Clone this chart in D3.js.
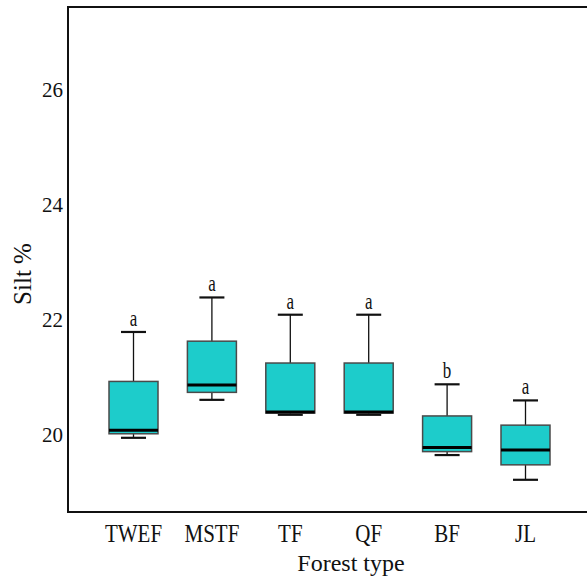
<!DOCTYPE html>
<html>
<head>
<meta charset="utf-8">
<script src="https://cdn.jsdelivr.net/npm/d3@7/dist/d3.min.js"></script>
<style>
  html, body { margin: 0; padding: 0; background: #fff; }
  svg { display: block; }
</style>
</head>
<body>
<svg id="chart" width="587" height="583" font-family="'Liberation Serif', 'Times New Roman', Tinos, 'DejaVu Serif', serif" fill="#111"></svg>
<script>
// Silt content by forest type (box-and-whisker summaries)
const categories = ["TWEF", "MSTF", "TF", "QF", "BF", "JL"];
const whiskerLow  = [19.95, 20.61, 20.35, 20.35, 19.65, 19.22];
const q1          = [20.02, 20.74, 20.38, 20.38, 19.71, 19.48];
const median      = [20.08, 20.87, 20.40, 20.40, 19.78, 19.74];
const q3          = [20.93, 21.63, 21.25, 21.25, 20.33, 20.17];
const whiskerHigh = [21.79, 22.39, 22.09, 22.09, 20.88, 20.60];
const groupLetters = ["a", "a", "a", "a", "b", "a"];
const yTicks = [20, 22, 24, 26];

const svg = d3.select("#chart");
const plotLeft = 68, plotTop = 7, plotBottom = 512;

const x = d3.scalePoint().domain(categories).range([133.5, 525.5]);
const y = d3.scaleLinear().domain([18.66, 27.44]).range([plotBottom, plotTop]);

const boxHalf = 24.5, capHalf = 12.5;

const data = categories.map((c, i) => ({
  cat: c, lo: whiskerLow[i], q1: q1[i], med: median[i], q3: q3[i], hi: whiskerHigh[i], letter: groupLetters[i]
}));

const g = svg.append("g");

// whiskers
g.selectAll("line.whisker").data(data).join("line")
  .attr("class", "whisker")
  .attr("x1", d => x(d.cat)).attr("x2", d => x(d.cat))
  .attr("y1", d => y(d.hi)).attr("y2", d => y(d.lo))
  .attr("stroke", "#111").attr("stroke-width", 1.3);

// caps
["hi", "lo"].forEach(k => {
  g.selectAll("line.cap-" + k).data(data).join("line")
    .attr("class", "cap-" + k)
    .attr("x1", d => x(d.cat) - capHalf).attr("x2", d => x(d.cat) + capHalf)
    .attr("y1", d => y(d[k])).attr("y2", d => y(d[k]))
    .attr("stroke", "#111").attr("stroke-width", 2.2);
});

// boxes
g.selectAll("rect.box").data(data).join("rect")
  .attr("class", "box")
  .attr("x", d => x(d.cat) - boxHalf)
  .attr("width", boxHalf * 2)
  .attr("y", d => y(d.q3))
  .attr("height", d => y(d.q1) - y(d.q3))
  .attr("fill", "#1dcccb")
  .attr("stroke", "#4a4a4a").attr("stroke-width", 1.5);

// medians
g.selectAll("line.median").data(data).join("line")
  .attr("class", "median")
  .attr("x1", d => x(d.cat) - boxHalf).attr("x2", d => x(d.cat) + boxHalf)
  .attr("y1", d => y(d.med)).attr("y2", d => y(d.med))
  .attr("stroke", "#000").attr("stroke-width", 3);

// significance letters
g.selectAll("g.letter").data(data).join("g")
  .attr("class", "letter")
  .attr("transform", d => `translate(${x(d.cat)},${y(d.hi) - 6}) scale(1,1.35)`)
  .append("text")
  .attr("text-anchor", "middle")
  .attr("font-size", 17)
  .text(d => d.letter);

// frame: left, top and bottom lines
svg.append("line").attr("x1", plotLeft).attr("x2", plotLeft).attr("y1", plotTop).attr("y2", plotBottom)
  .attr("stroke", "#111").attr("stroke-width", 2);
svg.append("line").attr("x1", plotLeft - 1).attr("x2", 587).attr("y1", plotTop).attr("y2", plotTop)
  .attr("stroke", "#111").attr("stroke-width", 2);
svg.append("line").attr("x1", plotLeft - 1).attr("x2", 587).attr("y1", plotBottom).attr("y2", plotBottom)
  .attr("stroke", "#111").attr("stroke-width", 2);

// y tick labels
svg.selectAll("text.ytick").data(yTicks).join("text")
  .attr("class", "ytick")
  .attr("x", plotLeft - 5).attr("y", d => y(d))
  .attr("dy", "0.34em")
  .attr("text-anchor", "end")
  .attr("font-size", 21)
  .text(d => d);

// x category labels
svg.selectAll("g.xlab").data(categories).join("g")
  .attr("class", "xlab")
  .attr("transform", d => `translate(${x(d)},542) scale(1,1.15)`)
  .append("text")
  .attr("text-anchor", "middle")
  .attr("font-size", 21)
  .text(d => d);

// axis titles
svg.append("text")
  .attr("transform", "translate(31,274) rotate(-90)")
  .attr("text-anchor", "middle")
  .attr("font-size", 25)
  .text("Silt %");

svg.append("text")
  .attr("x", 351).attr("y", 571)
  .attr("text-anchor", "middle")
  .attr("font-size", 24)
  .text("Forest type");
</script>
</body>
</html>
